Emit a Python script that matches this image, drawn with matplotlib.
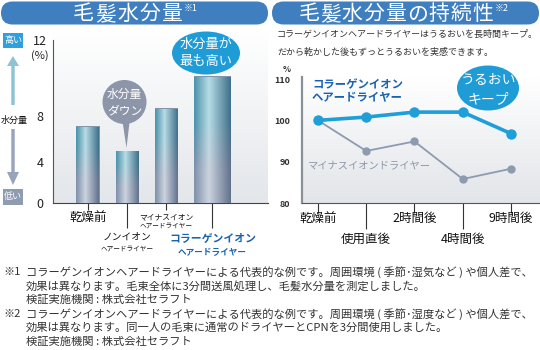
import numpy as np
import matplotlib

matplotlib.use("Agg")

import matplotlib.pyplot as plt  # noqa: E402
from matplotlib.colors import to_rgb  # noqa: E402
from matplotlib.patches import Ellipse, FancyBboxPatch, Polygon, Rectangle, Circle  # noqa: E402

plt.rcParams["font.family"] = ["Noto Sans CJK JP", "DejaVu Sans"]

# hair moisture content after drying (%)
dryer_names = ["乾燥前", "ノンイオン", "マイナスイオン", "コラーゲンイオン"]
moisture = [7.1, 5.0, 8.4, 10.1]
moisture_ticks = [0, 4, 8, 12]

# moisture retention over time, relative to before drying (%)
time_labels = ["乾燥前", "使用直後", "2時間後", "4時間後", "9時間後"]
collagen_retention = [100, 100.8, 102.0, 102.0, 96.8]
minus_ion_retention = [100, 92.6, 94.9, 85.8, 88.3]
retention_ticks = [80, 90, 100, 110]

footnotes = [
    ("※1", "コラーゲンイオンヘアードライヤーによる代表的な例です。周囲環境 ( 季節･湿気など ) や個人差で、"),
    ("", "効果は異なります。毛束全体に3分間送風処理し、毛髪水分量を測定しました。"),
    ("", "検証実施機関 : 株式会社セラフト"),
    ("※2", "コラーゲンイオンヘアードライヤーによる代表的な例です。周囲環境 ( 季節･湿度など ) や個人差で、"),
    ("", "効果は異なります。同一人の毛束に通常のドライヤーとCPNを3分間使用しました。"),
    ("", "検証実施機関 : 株式会社セラフト"),
]

W, H = 540, 350
TITLE_BLUE = "#3f7fbf"
BUBBLE_BLUE = "#1f9bd5"
LABEL_BLUE = "#1a62b0"
SLATE = "#8c97aa"
TEXT = "#333333"

fig = plt.figure(figsize=(W / 100, H / 100), dpi=100)

# full-size pixel canvas for the decorations (y runs downwards)
bg = fig.add_axes([0, 0, 1, 1])
bg.set_axis_off()


def reset_bg():
    bg.set_xlim(0, W)
    bg.set_ylim(H, 0)
    bg.set_aspect("auto")


def px_axes(x0, y0, x1, y1):
    return fig.add_axes([x0 / W, 1 - y1 / H, (x1 - x0) / W, (y1 - y0) / H])


def vgrad(x0, x1, y0, y1, top, bottom):
    t = np.linspace(0, 1, 64)[:, None]
    img = (1 - t) * np.array(to_rgb(top)) + t * np.array(to_rgb(bottom))
    bg.imshow(img[:, None, :].repeat(2, axis=1), extent=(x0, x1, y1, y0),
              origin="upper", aspect="auto", zorder=0)


def bar_image(n=48, m=64):
    u = np.linspace(0, 1, n)
    stops = [0, 0.38, 1]

    def row(mid, light, dark):
        cols = [to_rgb(mid), to_rgb(light), to_rgb(dark)]
        return np.stack([np.interp(u, stops, [c[i] for c in cols]) for i in range(3)], axis=1)

    top = row("#4f95ad", "#b7dce6", "#386a84")
    bottom = row("#8293ab", "#ccd3df", "#5c6c87")
    t = np.linspace(0, 1, m)[:, None, None]
    w = np.clip((t - 0.3) / 0.45, 0, 1)
    return bottom[None] * (1 - w) + top[None] * w


# --- title bars (letter-spaced) ---------------------------------------------
for x0, x1, tx, step, title, note in [(1, 268, 72, 22.2, "毛髪水分量", "※1"),
                                      (272, 539, 298, 21.7, "毛髪水分量の持続性", "※2")]:
    bg.add_patch(FancyBboxPatch((x0, 1.5), x1 - x0, 23,
                                boxstyle="round,pad=0,rounding_size=11.5",
                                fc=TITLE_BLUE, ec="none", zorder=1))
    for i, ch in enumerate(title):
        bg.text(tx + step * (i + 0.5), 14, ch, color="white", fontsize=15,
                ha="center", va="center", zorder=2)
    bg.text(tx + step * len(title) + 1, 8, note, color="white", fontsize=6.5,
            ha="left", va="center", zorder=2)

# --- left panel: moisture content -------------------------------------------
vgrad(53, 268, 30, 203, "#ffffff", "#e3e6ea")

bg.add_patch(Rectangle((3, 33), 20, 15, fc="#2fa0dc", ec="none"))
bg.text(13, 40.5, "高い", color="white", fontsize=6.5, ha="center", va="center")
bg.add_patch(Polygon([(13, 56), (19, 66), (14.7, 66), (14.7, 105), (11.3, 105), (11.3, 66), (7, 66)],
                     closed=True, fc="#8ec3d5", ec="none"))
bg.text(14, 120, "水分量", color="#111111", fontsize=6.5, ha="center", va="center")
bg.add_patch(Polygon([(13, 185), (19, 172), (14.7, 172), (14.7, 129), (11.3, 129), (11.3, 172), (7, 172)],
                     closed=True, fc="#97a5bb", ec="none"))
bg.add_patch(Rectangle((3, 189), 20, 16, fc="#8e9bb1", ec="none"))
bg.text(13, 197, "低い", color="white", fontsize=6.5, ha="center", va="center")

ax = px_axes(53, 40, 268, 203)
ax.patch.set_alpha(0)
# the printed axis is stretched towards the top: 0-4-8-12 are not evenly spaced
knots_v = [0, 4, 8, 12]
knots_px = [0, 41, 87, 163]
ax.set_yscale("function", functions=(lambda v: np.interp(v, knots_v, knots_px),
                                     lambda p: np.interp(p, knots_px, knots_v)))

bar_x = [0, 1, 2, 3.18]
bar_w = [0.6, 0.6, 0.6, 0.97]
bars = ax.bar(bar_x, moisture, width=bar_w, color="#7f95aa", zorder=2)
img = bar_image()
for rect, x, w, v in zip(bars, bar_x, bar_w, moisture):
    im = ax.imshow(img, extent=(x - w / 2, x + w / 2, 0, v), origin="lower",
                   aspect="auto", zorder=3, interpolation="bilinear")
    im.set_clip_path(rect)

ax.set_xlim(-0.9, 4.6)
ax.set_ylim(0, 12)
ax.set_aspect("auto")
for side in ("top", "right"):
    ax.spines[side].set_visible(False)
ax.spines["left"].set_color("#555555")
ax.spines["bottom"].set_color("#444444")
ax.spines["left"].set_linewidth(0.8)
ax.spines["bottom"].set_linewidth(0.8)

ax.set_yticks(moisture_ticks)
ax.set_yticklabels([str(v) for v in moisture_ticks], ha="center", fontsize=9, color="#222222")
ax.tick_params(axis="y", length=0, pad=9.5)
ax.annotate("(%)", xy=(0, 12), xycoords=("axes fraction", "data"), xytext=(-9.5, -11),
            textcoords="offset points", ha="center", va="center", fontsize=8, color="#222222")

ax.set_xticks([bar_x[0], bar_x[2]])
ax.set_xticks([bar_x[1], bar_x[3]], minor=True)
ax.set_xticklabels([])
ax.tick_params(axis="x", which="major", length=5, width=0.8, color="#333333")
ax.tick_params(axis="x", which="minor", length=18, width=0.8, color="#333333")


def under(axis, x, dy, text, **kw):
    axis.annotate(text, xy=(x, 0), xycoords=("data", "axes fraction"), xytext=(0, -dy),
                  textcoords="offset points", ha="center", va="center", annotation_clip=False, **kw)


under(ax, bar_x[0], 11, dryer_names[0], fontsize=9, color="#111111")
under(ax, bar_x[1], 24.5, dryer_names[1], fontsize=7, color="#111111")
under(ax, bar_x[1], 32.5, "ヘアードライヤー", fontsize=4.8, color="#111111")
under(ax, bar_x[2], 10, dryer_names[2], fontsize=5.6, color="#111111")
under(ax, bar_x[2], 16.5, "ヘアードライヤー", fontsize=4.8, color="#111111")
under(ax, bar_x[3], 26, dryer_names[3], fontsize=7.8, color=LABEL_BLUE, fontweight="bold")
under(ax, bar_x[3], 35.5, "ヘアードライヤー", fontsize=6.2, color=LABEL_BLUE, fontweight="bold")

# callouts
bg.add_patch(Circle((124.5, 102), 22, fc="#8c96a8", ec="none", zorder=4))
bg.add_patch(Polygon([(122, 118), (130, 118), (126.5, 148)], closed=True, fc="#8c96a8", ec="none", zorder=4))
bg.text(124.5, 94, "水分量", color="white", fontsize=8.5, ha="center", va="center", zorder=5)
bg.text(124.5, 111, "ダウン", color="white", fontsize=8.5, ha="center", va="center", zorder=5)

bg.add_patch(Ellipse((206, 53), 68, 43, fc=BUBBLE_BLUE, ec="none", zorder=4))
bg.text(206, 44, "水分量が", color="white", fontsize=9.5, ha="center", va="center", zorder=5)
bg.text(206, 62, "最も高い", color="white", fontsize=9.5, ha="center", va="center", zorder=5)

# --- right panel: retention over time ---------------------------------------
bg.text(277, 34, "コラーゲンイオンヘアードライヤーはうるおいを長時間キープ。",
        color=TEXT, fontsize=6.5, ha="left", va="center")
bg.text(277, 52, "だから乾かした後もずっとうるおいを実感できます。",
        color=TEXT, fontsize=6.5, ha="left", va="center")
vgrad(302, 540, 75, 203, "#ffffff", "#e2e5e9")
reset_bg()

ax2 = px_axes(302, 77, 540, 203)
ax2.patch.set_alpha(0)
xs = np.arange(len(time_labels))
ax2.plot(xs, minus_ion_retention, color="#8d9bb0", lw=1.3, marker="o", ms=5, zorder=3)
ax2.plot(xs, collagen_retention, color="#1f9ed8", lw=2.6, marker="o", ms=6.5, zorder=4)
ax2.set_xlim(-0.33, 4.6)
ax2.set_ylim(80, 110.5)
for side in ("top", "right"):
    ax2.spines[side].set_visible(False)
ax2.spines["left"].set_color("#8a8f98")
ax2.spines["left"].set_linewidth(1.6)
ax2.spines["bottom"].set_color("#555555")
ax2.spines["bottom"].set_linewidth(0.8)

ax2.set_yticks(retention_ticks)
ax2.set_yticklabels([str(v) for v in retention_ticks], fontsize=6.5, fontweight="bold", color=TEXT)
ax2.tick_params(axis="y", length=0, pad=8.5)
ax2.annotate("%", xy=(0, 110), xycoords=("axes fraction", "data"), xytext=(-8, 7),
             textcoords="offset points", ha="right", va="center", fontsize=6, fontweight="bold",
             color=TEXT, annotation_clip=False)

ax2.set_xticks(xs[::2])
ax2.set_xticks(xs[1::2], minor=True)
ax2.set_xticklabels([])
ax2.tick_params(axis="x", which="major", length=7, width=0.8, color="#333333")
ax2.tick_params(axis="x", which="minor", length=19, width=0.8, color="#333333")
for i, label in enumerate(time_labels):
    under(ax2, xs[i], 11.5 if i % 2 == 0 else 26.5, label, fontsize=9, color="#111111")

bg.text(312, 85, "コラーゲンイオン", color=LABEL_BLUE, fontsize=8.2, fontweight="bold",
        ha="left", va="center", zorder=5)
bg.text(312, 98, "ヘアードライヤー", color=LABEL_BLUE, fontsize=8.2, fontweight="bold",
        ha="left", va="center", zorder=5)
bg.text(308, 165, "マイナスイオンドライヤー", color=SLATE, fontsize=7.4, ha="left", va="center", zorder=5)

bg.add_patch(Ellipse((488, 88), 62, 45, fc=BUBBLE_BLUE, ec="none", zorder=4))
bg.text(488, 79, "うるおい", color="white", fontsize=10, ha="center", va="center", zorder=5)
bg.text(488, 99, "キープ", color="white", fontsize=10, ha="center", va="center", zorder=5)

# --- footnotes --------------------------------------------------------------
for i, (mark, line) in enumerate(footnotes):
    y = 272 + 13.9 * i
    if mark:
        bg.text(3, y, mark, color=TEXT, fontsize=8.1, ha="left", va="center")
    bg.text(26, y, line, color=TEXT, fontsize=8.1, ha="left", va="center")

reset_bg()
fig.savefig("out.png", dpi=100)
